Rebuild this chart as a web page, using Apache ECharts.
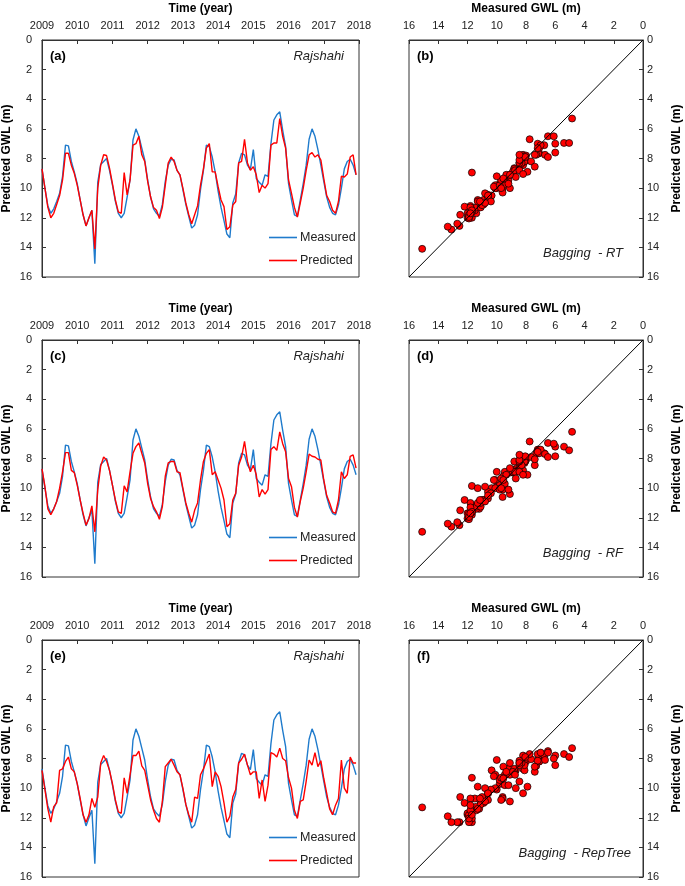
<!DOCTYPE html>
<html>
<head>
<meta charset="utf-8">
<script src="https://cdn.jsdelivr.net/npm/echarts@6/dist/echarts.min.js"></script>
<style>html,body{margin:0;padding:0;background:#fff;}#c{width:685px;height:886px;}</style>
</head>
<body>
<div id="c"></div>
<script>
// ---- data ----
const years = [2009, 2010, 2011, 2012, 2013, 2014, 2015, 2016, 2017, 2018];
const gwlTicks = [0, 2, 4, 6, 8, 10, 12, 14, 16];
const panelLetters = ['(a)', '(b)', '(c)', '(d)', '(e)', '(f)'];
const station = 'Rajshahi';
const modelNames = ['Bagging  - RT', 'Bagging  - RF', 'Bagging  - RepTree'];

// monthly measured GWL (m), Jan 2009 .. Dec 2017
const measured = [
 8.7, 10.0, 11.2, 11.7, 11.4, 10.9, 10.35, 9.2, 7.1, 7.15,
 8.2, 8.9, 9.7, 10.8, 11.8, 12.55, 12.0, 11.5, 15.1, 9.6,
 8.4, 8.2, 8.0, 8.8, 9.8, 10.9, 11.7, 12.0, 11.7, 10.6,
 9.45, 6.75, 6.0, 6.5, 7.3, 8.1, 9.45, 10.6, 11.4, 11.7,
 11.9, 11.1, 9.55, 8.45, 8.05, 8.1, 8.8, 9.1, 10.1, 11.1,
 11.9, 12.7, 12.5, 11.8, 10.1, 8.8, 7.1, 7.2, 7.9, 8.9,
 10.2, 11.3, 12.2, 13.1, 13.35, 11.0, 10.4, 8.3, 7.65, 7.75,
 8.45, 8.75, 7.4, 9.35, 9.6, 9.8, 9.1, 9.2, 7.0, 5.4,
 5.05, 4.85, 6.1, 7.2, 9.7, 10.8, 11.8, 11.9, 10.8, 9.7,
 8.45, 6.7, 6.0, 6.5, 7.4, 8.45, 9.55, 10.6, 11.3, 11.7,
 11.8, 11.15, 10.0, 8.7, 8.2, 8.05, 8.45, 9.1
];
// predicted GWL, Bagging-RT
const predictedRT = [
 8.7, 10.0, 11.3, 12.0, 11.7, 11.1, 10.5, 9.45, 7.65, 7.65,
 8.45, 9.0, 9.8, 10.8, 11.8, 12.55, 12.0, 11.5, 14.1, 10.0,
 8.45, 7.75, 7.8, 8.65, 9.7, 10.8, 11.6, 11.7, 8.95, 10.45,
 9.45, 7.1, 7.0, 6.5, 7.75, 8.2, 9.55, 10.6, 11.3, 11.5,
 12.05, 11.3, 9.8, 8.3, 7.9, 8.2, 8.8, 9.1, 10.0, 11.0,
 11.8, 12.4, 11.8, 11.2, 9.8, 8.7, 7.3, 7.0, 8.9, 8.9,
 9.9, 10.8, 11.25, 12.8, 12.6, 11.15, 10.9, 8.3, 8.2, 6.7,
 8.3, 8.8, 8.55, 9.1, 10.3, 9.8, 10.0, 9.7, 7.1, 6.95,
 6.95, 5.3, 6.5, 7.3, 9.45, 10.35, 11.3, 11.95, 11.0, 10.0,
 8.8, 7.75, 7.6, 7.9, 7.75, 8.1, 9.35, 10.5, 10.9, 11.5,
 11.7, 10.9, 9.2, 9.25, 9.05, 7.9, 7.75, 9.1
];
// predicted GWL, Bagging-RF
const predictedRF = [
 8.7, 9.9, 11.4, 11.8, 11.4, 10.9, 10.0, 8.9, 7.6, 7.6,
 8.8, 8.95, 9.8, 10.8, 11.7, 12.5, 12.05, 11.2, 12.95, 10.1,
 8.5, 7.9, 8.1, 8.8, 9.8, 10.8, 11.6, 11.7, 9.85, 10.25,
 8.9, 7.65, 7.2, 6.95, 7.65, 8.3, 9.7, 10.7, 11.25, 11.6,
 12.1, 11.25, 9.2, 8.3, 8.2, 8.2, 8.9, 8.95, 10.0, 11.0,
 11.7, 12.3, 11.5, 11.0, 9.45, 8.2, 7.65, 7.4, 9.1, 8.9,
 9.45, 10.0, 10.8, 12.6, 12.4, 10.8, 10.35, 8.45, 7.9, 6.85,
 8.2, 8.9, 8.45, 9.1, 10.6, 10.1, 10.4, 10.1, 7.4, 7.2,
 7.45, 6.2, 7.0, 7.55, 9.35, 9.9, 11.3, 11.95, 10.9, 10.0,
 8.9, 7.7, 7.85, 7.9, 8.05, 8.1, 9.45, 10.5, 11.0, 11.6,
 11.7, 10.8, 8.9, 9.35, 9.1, 7.85, 7.75, 8.65
];
// predicted GWL, Bagging-RepTree
const predictedRepTree = [
 8.8, 10.1, 11.4, 12.3, 11.25, 11.0, 8.8, 8.7, 8.2, 7.9,
 8.7, 8.9, 9.7, 10.7, 11.8, 12.3, 11.8, 10.7, 11.3, 10.6,
 8.3, 7.8, 8.2, 8.8, 9.7, 10.8, 11.6, 11.7, 9.3, 10.35,
 9.1, 7.8, 7.8, 7.5, 8.5, 8.8, 9.8, 10.8, 11.5, 12.05,
 12.3, 10.9, 8.55, 8.3, 8.05, 8.45, 8.9, 9.1, 10.0, 11.1,
 11.8, 12.3, 10.6, 10.7, 9.1, 8.7, 8.2, 7.7, 9.9, 8.9,
 9.2, 9.9, 11.0, 12.3, 11.9, 10.6, 10.1, 8.3, 8.05, 7.7,
 8.45, 9.1, 8.9, 8.9, 10.7, 9.45, 10.9, 9.8, 7.6, 7.7,
 7.9, 7.3, 8.0, 8.15, 9.3, 10.0, 11.5, 12.05, 10.9, 10.8,
 9.55, 8.1, 8.45, 7.6, 8.55, 8.15, 9.35, 10.35, 11.4, 11.8,
 11.15, 10.7, 8.1, 10.0, 10.35, 7.9, 8.3, 8.3
];
const predictions = [predictedRT, predictedRF, predictedRepTree];

// ---- chart ----
const FONT = 'Liberation Sans, Arial, sans-serif';
const AX = '#333';
const BLUE = '#1f7bcc', RED = '#ff0000';
const rowTops = [40, 340, 640];
const timeLeft = 42, timeWidth = 317, plotH = 237;
const scLeft = 409, scWidth = 234;
const modelRight = [62, 62, 54];

const grids = [], xAxes = [], yAxes = [], series = [], legends = [], graphics = [];
const tickStyle = { inside: true, length: 4, lineStyle: { color: AX } };
const lineStyle = { lineStyle: { color: AX, width: 1 } };
const labelStyle = { color: '#222', fontSize: 11, fontFamily: FONT };
const nameStyle = { color: '#000', fontSize: 12, fontWeight: 'bold', fontFamily: FONT };

rowTops.forEach((top, r) => {
  const gT = 2 * r, gS = 2 * r + 1;
  grids.push({ left: timeLeft, top: top, width: timeWidth, height: plotH, show: true, borderColor: AX, borderWidth: 1, containLabel: false });
  grids.push({ left: scLeft, top: top, width: scWidth, height: plotH, show: true, borderColor: AX, borderWidth: 1, containLabel: false });

  xAxes.push({ gridIndex: gT, type: 'value', position: 'top', min: years[0], max: years[years.length - 1], interval: 1,
    name: 'Time (year)', nameLocation: 'middle', nameGap: 25, nameTextStyle: nameStyle,
    axisLine: lineStyle, axisTick: tickStyle, splitLine: { show: false },
    axisLabel: Object.assign({ margin: 9, formatter: v => String(v) }, labelStyle) });
  yAxes.push({ gridIndex: gT, type: 'value', position: 'left', inverse: true, min: gwlTicks[0], max: gwlTicks[gwlTicks.length - 1], interval: 2,
    name: 'Predicted GWL (m)', nameLocation: 'middle', nameGap: 29, nameRotate: 90, nameTextStyle: nameStyle,
    axisLine: lineStyle, axisTick: tickStyle, splitLine: { show: false },
    axisLabel: Object.assign({ margin: 10 }, labelStyle) });

  xAxes.push({ gridIndex: gS, type: 'value', position: 'top', inverse: true, min: gwlTicks[0], max: gwlTicks[gwlTicks.length - 1], interval: 2,
    name: 'Measured GWL (m)', nameLocation: 'middle', nameGap: 25, nameTextStyle: nameStyle,
    axisLine: lineStyle, axisTick: tickStyle, splitLine: { show: false },
    axisLabel: Object.assign({ margin: 9 }, labelStyle) });
  yAxes.push({ gridIndex: gS, type: 'value', position: 'right', inverse: true, min: gwlTicks[0], max: gwlTicks[gwlTicks.length - 1], interval: 2,
    name: 'Predicted GWL (m)', nameLocation: 'middle', nameGap: 28, nameRotate: 90, nameTextStyle: nameStyle,
    axisLine: lineStyle, axisTick: tickStyle, splitLine: { show: false },
    axisLabel: Object.assign({ margin: 4 }, labelStyle) });

  const pred = predictions[r];
  series.push({ name: 'Measured', type: 'line', xAxisIndex: gT, yAxisIndex: gT, symbol: 'none', silent: true,
    lineStyle: { color: BLUE, width: 1.4 }, itemStyle: { color: BLUE },
    data: measured.map((v, i) => [years[0] + i / 12, v]) });
  series.push({ name: 'Predicted', type: 'line', xAxisIndex: gT, yAxisIndex: gT, symbol: 'none', silent: true,
    lineStyle: { color: RED, width: 1.4 }, itemStyle: { color: RED },
    data: pred.map((v, i) => [years[0] + i / 12, v]) });

  series.push({ name: '1:1 line ' + r, type: 'line', xAxisIndex: gS, yAxisIndex: gS, symbol: 'none', silent: true,
    lineStyle: { color: '#000', width: 1 },
    data: [[gwlTicks[gwlTicks.length - 1], gwlTicks[gwlTicks.length - 1]], [gwlTicks[0], gwlTicks[0]]] });
  series.push({ name: modelNames[r], type: 'scatter', xAxisIndex: gS, yAxisIndex: gS, symbolSize: 7, silent: true,
    itemStyle: { color: RED, borderColor: '#000', borderWidth: 0.7, opacity: 1 },
    data: measured.map((m, i) => [m, pred[i]]) });

  legends.push({
    data: [
      { name: 'Measured', icon: 'rect', itemStyle: { color: BLUE } },
      { name: 'Predicted', icon: 'rect', itemStyle: { color: RED } }
    ],
    orient: 'vertical', left: 264, top: top + 186, itemWidth: 28, itemHeight: 1.6,
    itemGap: 10, selectedMode: false,
    textStyle: { color: '#222', fontSize: 12.5, fontFamily: FONT, padding: [0, 0, 0, -2] } });

  graphics.push({ type: 'text', left: 50, top: top + 10, style: { text: panelLetters[gT], font: 'bold 13px ' + FONT, fill: '#000' } });
  graphics.push({ type: 'text', right: 685 - 344, top: top + 10, style: { text: station, font: 'italic 13px ' + FONT, fill: '#222' } });
  graphics.push({ type: 'text', left: 417, top: top + 10, style: { text: panelLetters[gS], font: 'bold 13px ' + FONT, fill: '#000' } });
  graphics.push({ type: 'text', right: modelRight[r], top: top + 207, style: { text: modelNames[r], font: 'italic 13px ' + FONT, fill: '#222' } });
});

const chart = echarts.init(document.getElementById('c'), null, { renderer: 'canvas' });
chart.setOption({
  backgroundColor: '#fff',
  animation: false,
  textStyle: { fontFamily: FONT },
  grid: grids, xAxis: xAxes, yAxis: yAxes, series: series, legend: legends, graphic: graphics
});
</script>
</body>
</html>
